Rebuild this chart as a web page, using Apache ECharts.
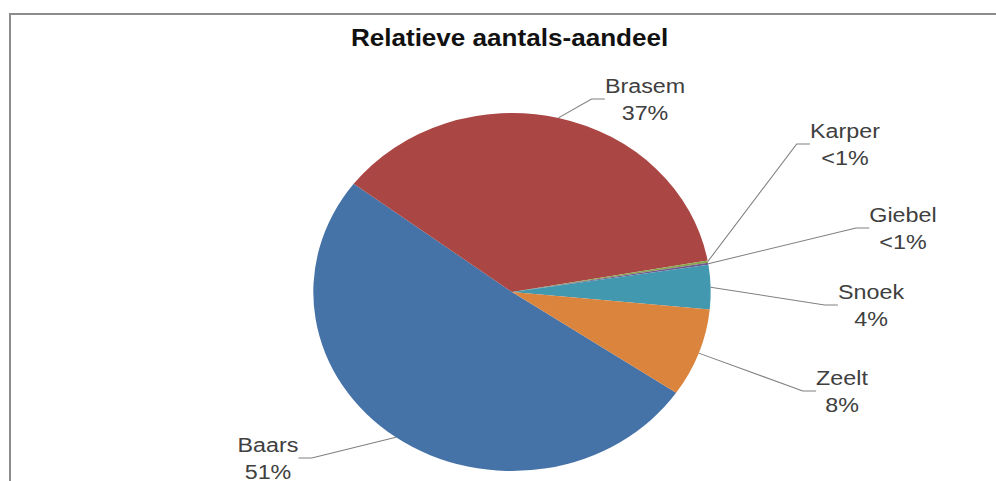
<!DOCTYPE html>
<html>
<head>
<meta charset="utf-8">
<script src="https://cdn.jsdelivr.net/npm/echarts/dist/echarts.min.js"></script>
<style>
  html, body { margin: 0; padding: 0; background: #fff; overflow: hidden; }
  #edge {
    position: absolute; left: 9px; top: 13px; width: 990px; height: 475px;
    border-left: 2px solid #8c8c8c; border-top: 2px solid #8c8c8c;
  }
  #chart {
    position: absolute; left: 0; top: 0; width: 897px; height: 481px;
    transform: scaleX(1.11); transform-origin: 0 0;
  }
</style>
</head>
<body>
<div id="edge"></div>
<div id="chart"></div>
<script>
// Fish species and their share of the total count (percent)
const categories = ['Baars', 'Brasem', 'Karper', 'Giebel', 'Snoek', 'Zeelt'];
const shares = [51, 37, 0.2, 0.2, 4, 8];
const sliceColors = ['#4572A7', '#AA4643', '#89A54E', '#71588F', '#4198AF', '#DB843D'];
const chartTitle = 'Relatieve aantals-aandeel';

// The drawing is widened horizontally by this factor (see #chart transform)
const STRETCH = 1.11;
// Label centres on the page, in page pixels
const labelSpots = [[268, 458], [645, 99], [845, 144], [903, 228], [871, 305], [842, 391]];

const chart = echarts.init(document.getElementById('chart'), null, { renderer: 'svg' });

chart.setOption({
  animation: false,
  title: {
    text: chartTitle,
    left: 504 / STRETCH,
    top: 21,
    textAlign: 'center',
    textStyle: {
      fontFamily: '"Liberation Sans", Arial, sans-serif',
      fontWeight: 'bold',
      fontSize: 23.5,
      color: '#111'
    }
  },
  series: [{
    type: 'pie',
    center: [512 / STRETCH, 292],
    radius: 179,
    startAngle: 325.7,
    clockwise: true,
    avoidLabelOverlap: false,
    emphasis: { disabled: true },
    itemStyle: { borderWidth: 0 },
    data: categories.map((name, i) => ({
      name: name,
      value: shares[i],
      itemStyle: { color: sliceColors[i] }
    })),
    label: {
      show: true,
      position: 'outside',
      formatter: p => p.name + '\n' + (p.percent < 1 ? '<1' : Math.round(p.percent)) + '%',
      fontFamily: '"Liberation Sans", Arial, sans-serif',
      fontSize: 21,
      lineHeight: 27,
      color: '#404040',
      align: 'center'
    },
    labelLine: {
      show: true,
      length: 10,
      length2: 12,
      lineStyle: { color: '#808080', width: 1 }
    },
    labelLayout: params => {
      const spot = labelSpots[params.dataIndex];
      return { x: spot[0] / STRETCH, y: spot[1], align: 'center', verticalAlign: 'middle' };
    }
  }]
});
</script>
</body>
</html>
